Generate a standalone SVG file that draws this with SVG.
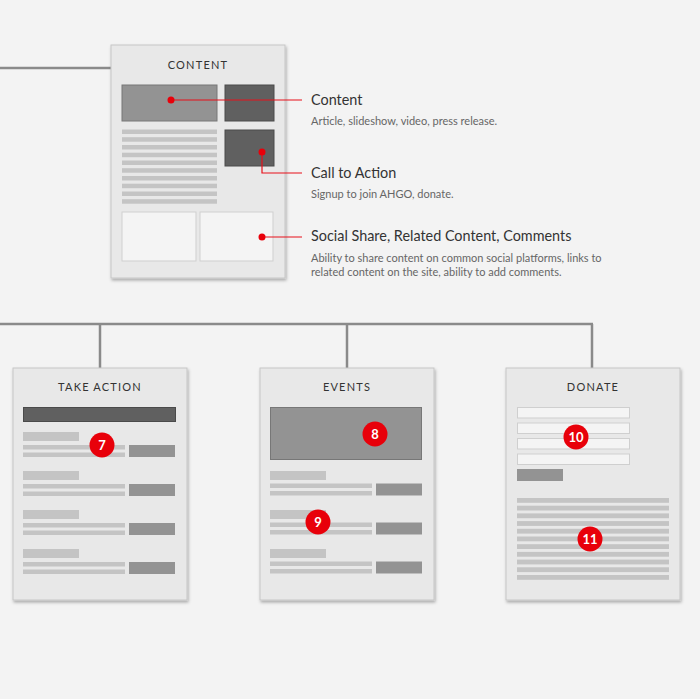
<svg xmlns="http://www.w3.org/2000/svg" width="700" height="699" viewBox="0 0 700 699">
<defs>
<filter id="sh" x="-10%" y="-10%" width="125%" height="125%">
<feDropShadow dx="1" dy="2" stdDeviation="1.8" flood-color="#000" flood-opacity="0.3"/>
</filter>
<style>
.page{fill:#e8e8e8;stroke:#c6c6c6;stroke-width:1;filter:url(#sh)}
.title{font-family:Lato,"Liberation Sans",sans-serif;font-size:11px;letter-spacing:1.2px;fill:#333;text-anchor:middle}
.hero{fill:#939393;stroke:#777;stroke-width:1}
.dark{fill:#606060;stroke:#4a4a4a;stroke-width:1}
.ln{fill:#c4c4c4}
.btn{fill:#939393}
.box{fill:#f4f4f4;stroke:#cfcfcf;stroke-width:1}
.conn{stroke:#8a8a8a;stroke-width:2.5;fill:none}
.red{stroke:#e8101a;stroke-width:1.2;fill:none}
.dot{fill:#e8000a}
.badge{fill:#e8000a}
.bn{font-family:Lato,"Liberation Sans",sans-serif;font-weight:bold;font-size:13px;fill:#fff;text-anchor:middle}
.h{font-family:Lato,"Liberation Sans",sans-serif;font-size:14.4px;fill:#333}
.d{font-family:Lato,"Liberation Sans",sans-serif;font-size:11px;fill:#666}
</style>
</defs>
<rect width="700" height="699" fill="#f3f3f3"/>

<g id="connectors">
<path class="conn" d="M0 68 H111"/>
<path class="conn" d="M0 324 H593"/>
<path class="conn" d="M100 324 V368"/>
<path class="conn" d="M347 324 V368"/>
<path class="conn" d="M592 324 V368"/>
</g>

<g id="content-page">
<rect class="page" x="111" y="45" width="174" height="233"/>
<text class="title" x="198" y="69">CONTENT</text>
<rect class="hero" x="122" y="85" width="95" height="36"/>
<rect class="dark" x="225" y="85" width="49" height="36"/>
<rect class="dark" x="225" y="130" width="49" height="36"/>
<rect class="ln" x="122" y="129.5" width="95" height="4.5"/>
<rect class="ln" x="122" y="137.2" width="95" height="4.5"/>
<rect class="ln" x="122" y="145" width="95" height="4.5"/>
<rect class="ln" x="122" y="152.7" width="95" height="4.5"/>
<rect class="ln" x="122" y="160.5" width="95" height="4.5"/>
<rect class="ln" x="122" y="168.2" width="95" height="4.5"/>
<rect class="ln" x="122" y="176" width="95" height="4.5"/>
<rect class="ln" x="122" y="183.7" width="95" height="4.5"/>
<rect class="ln" x="122" y="191.5" width="95" height="4.5"/>
<rect class="ln" x="122" y="199.2" width="95" height="4.5"/>
<rect class="box" x="122" y="212" width="74" height="49"/>
<rect class="box" x="200" y="212" width="73" height="49"/>
</g>

<g id="annotations">
<path class="red" d="M171 100 H302"/>
<path class="red" d="M262 152 V173 H302"/>
<path class="red" d="M262 237 H302"/>
<circle class="dot" cx="171" cy="100" r="3.5"/>
<circle class="dot" cx="262" cy="152" r="3.5"/>
<circle class="dot" cx="262" cy="237" r="3.5"/>
<text class="h" x="311" y="105">Content</text>
<text class="d" x="311" y="125">Article, slideshow, video, press release.</text>
<text class="h" x="311" y="178">Call to Action</text>
<text class="d" x="311" y="198">Signup to join AHGO, donate.</text>
<text class="h" x="311" y="241">Social Share, Related Content, Comments</text>
<text class="d" x="311" y="262">Ability to share content on common social platforms, links to</text>
<text class="d" x="311" y="276">related content on the site, ability to add comments.</text>
</g>

<g id="take-action">
<rect class="page" x="13" y="368" width="174" height="232"/>
<text class="title" x="100" y="391">TAKE ACTION</text>
<rect class="dark" x="23.5" y="407.5" width="152" height="14"/>
<g id="ta-rows">
<rect class="ln" x="23" y="432" width="56" height="9"/><rect class="ln" x="23" y="445" width="102" height="4.5"/><rect class="ln" x="23" y="452.5" width="102" height="4.5"/><rect class="btn" x="129" y="445" width="46" height="12"/>
<rect class="ln" x="23" y="471" width="56" height="9"/><rect class="ln" x="23" y="484" width="102" height="4.5"/><rect class="ln" x="23" y="491.5" width="102" height="4.5"/><rect class="btn" x="129" y="484" width="46" height="12"/>
<rect class="ln" x="23" y="510" width="56" height="9"/><rect class="ln" x="23" y="523" width="102" height="4.5"/><rect class="ln" x="23" y="530.5" width="102" height="4.5"/><rect class="btn" x="129" y="523" width="46" height="12"/>
<rect class="ln" x="23" y="549" width="56" height="9"/><rect class="ln" x="23" y="562" width="102" height="4.5"/><rect class="ln" x="23" y="569.5" width="102" height="4.5"/><rect class="btn" x="129" y="562" width="46" height="12"/>
</g>
<circle class="badge" cx="102" cy="445" r="12.5"/>
<text class="bn" x="102" y="449.5">7</text>
</g>

<g id="events">
<rect class="page" x="260" y="368" width="174" height="232"/>
<text class="title" x="347" y="391">EVENTS</text>
<rect class="hero" x="270.5" y="407.5" width="151" height="52"/>
<rect class="ln" x="270" y="471" width="56" height="9"/><rect class="ln" x="270" y="483.5" width="102" height="4.5"/><rect class="ln" x="270" y="491" width="102" height="4.5"/><rect class="btn" x="376" y="483.5" width="46" height="12"/>
<rect class="ln" x="270" y="510" width="56" height="9"/><rect class="ln" x="270" y="522.5" width="102" height="4.5"/><rect class="ln" x="270" y="530" width="102" height="4.5"/><rect class="btn" x="376" y="522.5" width="46" height="12"/>
<rect class="ln" x="270" y="549" width="56" height="9"/><rect class="ln" x="270" y="561.5" width="102" height="4.5"/><rect class="ln" x="270" y="569" width="102" height="4.5"/><rect class="btn" x="376" y="561.5" width="46" height="12"/>
<circle class="badge" cx="375" cy="434" r="12.5"/>
<text class="bn" x="375" y="438.5">8</text>
<circle class="badge" cx="318" cy="522" r="12.5"/>
<text class="bn" x="318" y="526.5">9</text>
</g>

<g id="donate">
<rect class="page" x="506" y="368" width="174" height="232"/>
<text class="title" x="593" y="391">DONATE</text>
<rect class="box" x="517.5" y="407.5" width="112" height="10.5"/>
<rect class="box" x="517.5" y="423" width="112" height="10.5"/>
<rect class="box" x="517.5" y="438.5" width="112" height="10.5"/>
<rect class="box" x="517.5" y="454" width="112" height="10.5"/>
<rect class="btn" x="517" y="469" width="46" height="12"/>
<rect class="ln" x="517" y="498" width="152" height="4.8"/>
<rect class="ln" x="517" y="505.7" width="152" height="4.8"/>
<rect class="ln" x="517" y="513.4" width="152" height="4.8"/>
<rect class="ln" x="517" y="521.1" width="152" height="4.8"/>
<rect class="ln" x="517" y="528.8" width="152" height="4.8"/>
<rect class="ln" x="517" y="536.5" width="152" height="4.8"/>
<rect class="ln" x="517" y="544.2" width="152" height="4.8"/>
<rect class="ln" x="517" y="551.9" width="152" height="4.8"/>
<rect class="ln" x="517" y="559.6" width="152" height="4.8"/>
<rect class="ln" x="517" y="567.3" width="152" height="4.8"/>
<rect class="ln" x="517" y="575" width="152" height="4.8"/>
<circle class="badge" cx="576" cy="437" r="12.5"/>
<text class="bn" x="576" y="441.5">10</text>
<circle class="badge" cx="590" cy="539" r="12.5"/>
<text class="bn" x="590" y="543.5">11</text>
</g>
</svg>
